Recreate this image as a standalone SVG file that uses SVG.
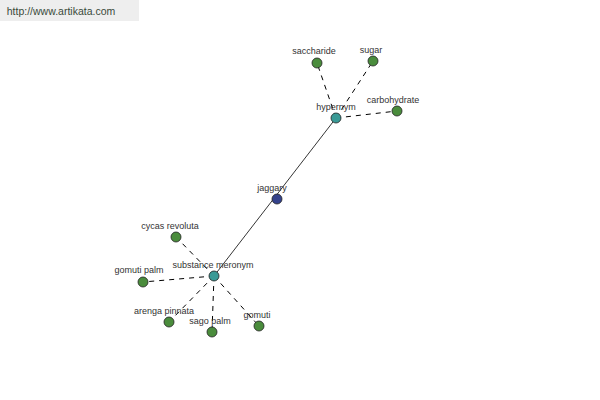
<svg xmlns="http://www.w3.org/2000/svg" width="600" height="400" viewBox="0 0 600 400">
<style>
text{font-family:"Liberation Sans",Arial,sans-serif;font-size:9px;fill:#333;text-anchor:middle}
.d{stroke:#000;stroke-width:1;stroke-dasharray:5,5;fill:none}
.s{stroke:#000;stroke-width:0.8;fill:none}
circle{stroke:#222;stroke-width:0.8}
.g{fill:#4a8c3c}.t{fill:#3a9a96}.b{fill:#34428c}
</style>
<rect x="0" y="0" width="139" height="21" fill="#eeeeee"/>
<text x="61" y="15" style="font-size:10.5px;fill:#3a4a3a">http://www.artikata.com</text>
<g id="connectors">
<line class="s" x1="336" y1="118" x2="214" y2="276"/>
<line class="d" x1="336" y1="118" x2="317" y2="63"/>
<line class="d" x1="336" y1="118" x2="373" y2="61"/>
<line class="d" x1="336" y1="118" x2="397" y2="111"/>
<line class="d" x1="214" y1="276" x2="176" y2="237"/>
<line class="d" x1="214" y1="276" x2="143" y2="282"/>
<line class="d" x1="214" y1="276" x2="169" y2="322"/>
<line class="d" x1="214" y1="276" x2="212" y2="332"/>
<line class="d" x1="214" y1="276" x2="259" y2="326"/>
</g>
<g id="saccharide"><circle class="g" cx="317" cy="63" r="5"/><text x="314" y="54">saccharide</text></g>
<g id="sugar"><circle class="g" cx="373" cy="61" r="5"/><text x="371" y="53">sugar</text></g>
<g id="carbohydrate"><circle class="g" cx="397" cy="111" r="5"/><text x="393" y="103">carbohydrate</text></g>
<g id="hypernym"><circle class="t" cx="336" cy="118" r="5"/><text x="336" y="110">hypernym</text></g>
<g id="jaggary"><circle class="b" cx="277" cy="199" r="5"/><text x="272" y="191">jaggary</text></g>
<g id="cycas-revoluta"><circle class="g" cx="176" cy="237" r="5"/><text x="170" y="229">cycas revoluta</text></g>
<g id="substance-meronym"><circle class="t" cx="214" cy="276" r="5"/><text x="213" y="268">substance meronym</text></g>
<g id="gomuti-palm"><circle class="g" cx="143" cy="282" r="5"/><text x="139" y="273">gomuti palm</text></g>
<g id="arenga-pinnata"><circle class="g" cx="169" cy="322" r="5"/><text x="164" y="314">arenga pinnata</text></g>
<g id="sago-palm"><circle class="g" cx="212" cy="332" r="5"/><text x="210" y="324">sago palm</text></g>
<g id="gomuti"><circle class="g" cx="259" cy="326" r="5"/><text x="257" y="318">gomuti</text></g>
</svg>
